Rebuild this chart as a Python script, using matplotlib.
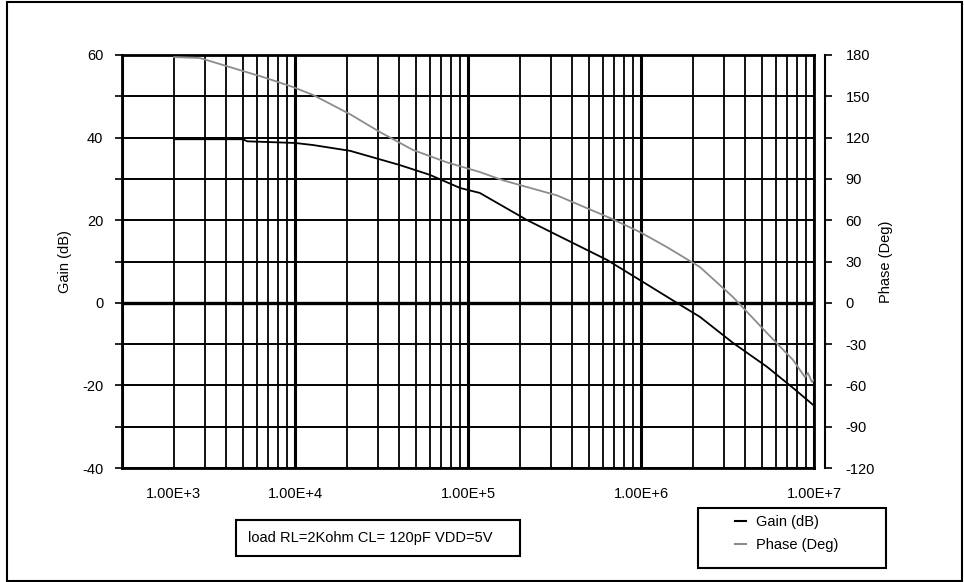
import numpy as np
import matplotlib.pyplot as plt
import matplotlib.transforms as mtransforms
from matplotlib.patches import Rectangle
from matplotlib.lines import Line2D
from matplotlib.ticker import FixedLocator, FuncFormatter, NullFormatter

plt.rcParams['font.family'] = ['Liberation Sans', 'DejaVu Sans']
plt.rcParams['axes.unicode_minus'] = False

# gain curve (Hz, dB)
gain_freq = [2.0e3, 5.0e3, 5.3e3, 1.0e4, 1.27e4, 2.08e4, 4.0e4, 6.0e4, 9.0e4, 1.17e5,
             2.19e5, 3.27e5, 6.35e5, 9.86e5, 1.61e6, 2.19e6, 3.40e6, 5.35e6, 7.56e6, 9.87e6]
gain_db = [39.6, 39.6, 39.1, 38.7, 38.2, 36.8, 33.4, 31.0, 27.8, 26.6,
           20.05, 16.4, 10.4, 5.5, 0.0, -3.4, -9.7, -15.5, -20.6, -24.7]

# phase curve (Hz, deg)
phase_freq = [2.0e3, 2.82e3, 4.81e3, 6.53e3, 9.7e3, 1.27e4, 2.08e4, 3.10e4, 4.81e4, 7.56e4,
              1.17e5, 1.59e5, 3.27e5, 6.62e5, 9.86e5, 1.41e6, 2.19e6, 3.40e6, 5.35e6, 7.56e6,
              8.87e6, 9.23e6, 9.73e6, 1.0e7]
phase_deg = [178.5, 177.8, 169, 164, 156.8, 151, 137, 124, 111, 102,
             95, 89, 78, 61.6, 51.4, 40.5, 26, 4.2, -22, -41.5,
             -54, -51, -57.5, -56]

xticks = [1e3, 1e4, 1e5, 1e6, 1e7]
xticklabels = ['1.00E+3', '1.00E+4', '1.00E+5', '1.00E+6', '1.00E+7']
gain_ticks = [-40, -30, -20, -10, 0, 10, 20, 30, 40, 50, 60]
phase_ticks = [-120, -90, -60, -30, 0, 30, 60, 90, 120, 150, 180]

fig = plt.figure(figsize=(9.64, 5.82), dpi=100)
ax = fig.add_axes([122 / 964, 1 - 468 / 582, 692 / 964, 413 / 582])

ax.set_xscale('log')
ax.set_xlim(1e3, 1e7)
ax.set_ylim(-40, 60)

# grid lines
minors = [m * 10 ** d for d in range(3, 7) for m in range(2, 10)]
for f in minors:
    ax.axvline(f, color='black', lw=1.3, zorder=1)
for f in xticks:
    ax.axvline(f, color='black', lw=2.2, zorder=1)
for g in gain_ticks:
    ax.axhline(g, color='black', lw=2.4 if g == 0 else 1.4, zorder=1)

ax.set_xticks(xticks)
ax.set_xticklabels(xticklabels)
ax.xaxis.set_minor_formatter(NullFormatter())
ax.tick_params(axis='x', which='both', length=0, pad=14, labelsize=10.5)
# first label sits inside, like the original sheet
first = ax.get_xticklabels()[0]
first.set_transform(first.get_transform() + mtransforms.ScaledTranslation(51 / 100, 0, fig.dpi_scale_trans))

ax.yaxis.set_major_locator(FixedLocator(gain_ticks))
ax.yaxis.set_major_formatter(FuncFormatter(lambda v, p: '%d' % v if v % 20 == 0 else ''))
ax.tick_params(axis='y', length=5, width=1.2, pad=8.4, labelsize=10.5)
for s in ax.spines.values():
    s.set_linewidth(2)
ax.set_ylabel('Gain (dB)', fontsize=10.5, labelpad=7)

ax.plot(gain_freq, gain_db, color='black', lw=1.3, zorder=3)

ax2 = ax.twinx()
ax2.set_ylim(-120, 180)
ax2.yaxis.set_major_locator(FixedLocator(phase_ticks))
ax2.spines['right'].set_position(('outward', 8))
ax2.spines['right'].set_linewidth(1.5)
for k in ['left', 'top', 'bottom']:
    ax2.spines[k].set_visible(False)
ax2.tick_params(axis='y', length=5, width=1.2, pad=9.6, labelsize=10.5)
ax2.set_ylabel('Phase (Deg)', fontsize=10.5, rotation=90, labelpad=3)
ax2.plot(phase_freq, phase_deg, color='#8c8c8c', lw=1.3, zorder=3)

# note box
fig.text(248 / 964, 1 - 538 / 582, 'load RL=2Kohm CL= 120pF VDD=5V', fontsize=10.5,
         va='center', ha='left')
fig.patches.append(Rectangle((236 / 964, 1 - 556 / 582), 284 / 964, 36 / 582,
                             transform=fig.transFigure, fill=False, ec='black', lw=1.5))

# legend
handles = [Line2D([], [], color='black', lw=1.5), Line2D([], [], color='#8c8c8c', lw=1.5)]
leg = fig.legend(handles, ['Gain (dB)', 'Phase (Deg)'], loc='upper left',
                 bbox_to_anchor=(735 / 964, 1 - 515 / 582),
                 fontsize=10.5, handlelength=0.75, handletextpad=0.7,
                 borderpad=0, borderaxespad=0, labelspacing=0.62, frameon=False)
fig.patches.append(Rectangle((698 / 964, 1 - 568 / 582), 188 / 964, 60 / 582,
                             transform=fig.transFigure, fill=False, ec='black', lw=1.5))

# outer border
fig.patches.append(Rectangle((7 / 964, 1 / 582), 955 / 964, 579 / 582,
                             transform=fig.transFigure, fill=False, ec='black', lw=1.5))

plt.savefig('out.png', dpi=100)
